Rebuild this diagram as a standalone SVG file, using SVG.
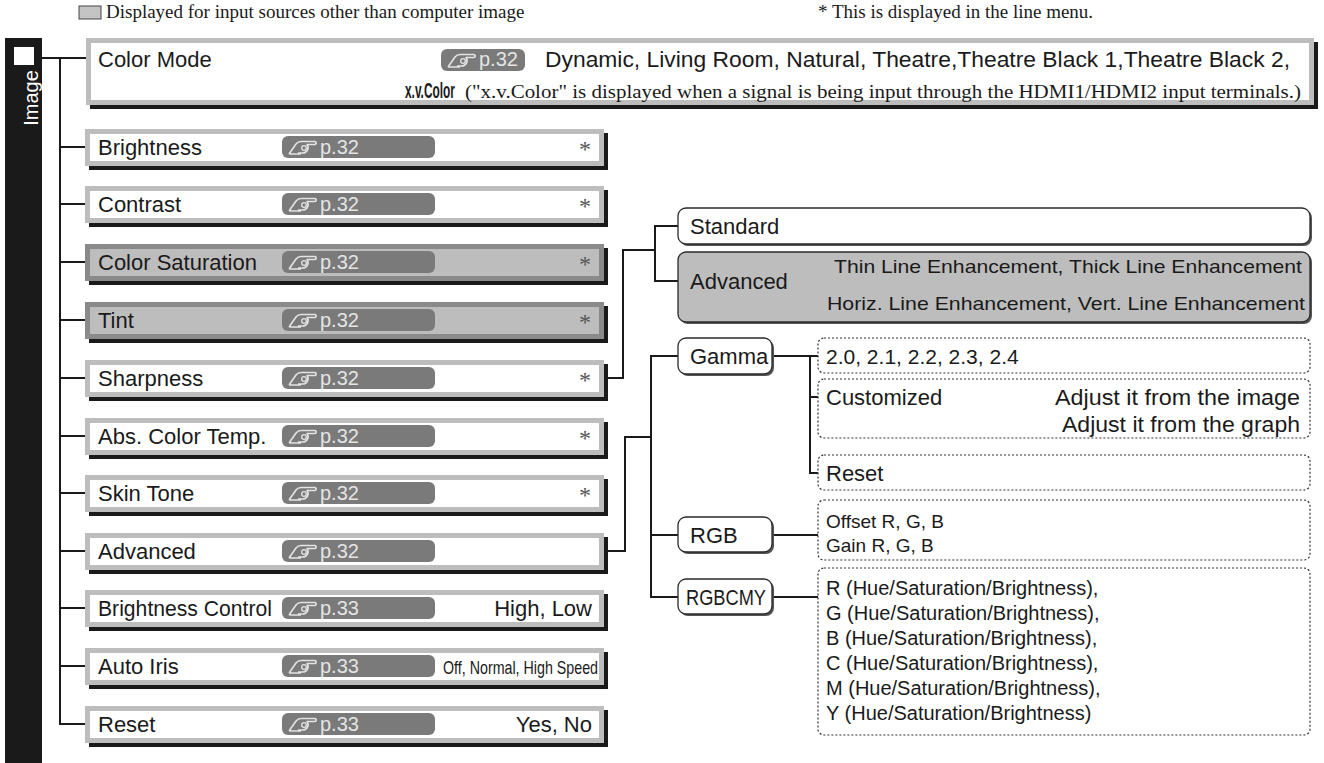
<svg xmlns="http://www.w3.org/2000/svg" width="1324" height="763" viewBox="0 0 1324 763">
<style>
.sans{font-family:"Liberation Sans",Arial,sans-serif;fill:#1a1a1a}
.serif{font-family:"Liberation Serif","Times New Roman",serif;fill:#1a1a1a}
.lbl{font-size:22px}
.sm{font-size:19px}
.sh{fill:#1a1a1a}
.ob{fill:#bdbdbd}
.ib{fill:#ffffff}
.og{fill:#8a8a8a}
.ig{fill:#bdbdbd}
.badge{fill:#7a7a7a}
.pg{font-family:"Liberation Sans",Arial,sans-serif;font-size:20px;fill:#e4e4e4}
.ast{font-family:"Liberation Serif",serif;font-size:24px;fill:#555}
.con{fill:none;stroke:#1a1a1a;stroke-width:2}
.rbox{fill:#fff;stroke:#2a2a2a;stroke-width:1.3}
.rboxg{fill:#bdbdbd;stroke:#2a2a2a;stroke-width:1.3}
.rsh{fill:#555}
.dot{fill:#fff;stroke:#333;stroke-width:1.2;stroke-dasharray:2 2}
</style>
<defs>
<symbol id="hand" viewBox="0 0 30 18" overflow="visible">
<path d="M1 16 L8 6 Q10 3.5 13 3.5 L27 3.5 Q29.5 4.8 27 6.5 L19 6.5 Q21 9 19.5 12 Q17.5 15.5 14 15 L10 15 M1 16 L13 16" fill="none" stroke="#e4e4e4" stroke-width="1.6" stroke-linejoin="round"/>
<circle cx="16" cy="10" r="2.3" fill="none" stroke="#e4e4e4" stroke-width="1.3"/>
</symbol>
</defs>
<rect width="1324" height="763" fill="#fff"/>

<g id="legend">
<rect x="79" y="6" width="22" height="13" fill="#c4c4c4" stroke="#444" stroke-width="1"/>
<text class="serif" x="106" y="18" font-size="19">Displayed for input sources other than computer image</text>
<text class="serif" x="818" y="18" font-size="19">* This is displayed in the line menu.</text>
</g>

<g id="sidebar">
<rect x="5" y="38" width="37" height="725" fill="#1a1a1a"/>
<rect x="14" y="47" width="20" height="18" fill="#fff"/>
<text class="sans" transform="translate(31,98) rotate(-90)" text-anchor="middle" dominant-baseline="central" font-size="20" style="fill:#fff">Image</text>
</g>

<g id="connectors">
<path class="con" d="M42 58 H86 M60 58 V724 H85 M60 147 H85 M60 204 H85 M60 262 H85 M60 320 H85 M60 378 H85 M60 436 H85 M60 493 H85 M60 551 H85 M60 608 H85 M60 666 H85"/>
<path class="con" d="M608 378 H623 V250 H655 M678 226 H655 V281 H678"/>
<path class="con" d="M608 551 H625 V437 H651 M678 356 H651 V597 H678 M651 535 H678"/>
<path class="con" d="M772 356 H818 M810 356 V473 H818 M810 397 H818 M772 535 H818 M772 597 H818"/>
</g>

<g id="n-colormode">
<rect class="sh" x="90" y="42" width="1228" height="67"/>
<rect class="ob" x="86" y="38" width="1228" height="67"/>
<rect class="ib" x="91" y="43" width="1218" height="57"/>
<text class="sans lbl" x="98" y="67">Color Mode</text>
<rect class="badge" x="441" y="49" width="84" height="22" rx="6"/>
<use href="#hand" x="447" y="51" width="30" height="18"/>
<text class="pg" x="479" y="66" font-size="19">p.32</text>
<text class="sans lbl" x="545" y="67" textLength="745" lengthAdjust="spacingAndGlyphs">Dynamic, Living Room, Natural, Theatre,Theatre Black 1,Theatre Black 2,</text>
<text class="sans" transform="translate(405 98) scale(0.54 1)" x="0" y="0" font-size="22" font-weight="bold">x.v.Color</text>
<text class="serif" x="465" y="98" font-size="19" textLength="836" lengthAdjust="spacingAndGlyphs">("x.v.Color" is displayed when a signal is being input through the HDMI1/HDMI2 input terminals.)</text>
</g>

<g id="n-brightness">
<rect class="sh" x="89" y="133" width="519" height="37"/>
<rect class="ob" x="85" y="129" width="519" height="37"/>
<rect class="ib" x="90" y="134" width="509" height="27"/>
<text class="sans lbl" x="98" y="155">Brightness</text>
<rect class="badge" x="282" y="136" width="153" height="22" rx="6"/>
<use href="#hand" x="288" y="138" width="30" height="18"/>
<text class="pg" x="320" y="154">p.32</text>
<text class="ast" x="579" y="157">*</text>
</g>

<g id="n-contrast">
<rect class="sh" x="89" y="190" width="519" height="37"/>
<rect class="ob" x="85" y="186" width="519" height="37"/>
<rect class="ib" x="90" y="191" width="509" height="27"/>
<text class="sans lbl" x="98" y="212">Contrast</text>
<rect class="badge" x="282" y="193" width="153" height="22" rx="6"/>
<use href="#hand" x="288" y="195" width="30" height="18"/>
<text class="pg" x="320" y="211">p.32</text>
<text class="ast" x="579" y="214">*</text>
</g>

<g id="n-colorsat">
<rect class="sh" x="89" y="248" width="519" height="37"/>
<rect class="og" x="85" y="244" width="519" height="37"/>
<rect class="ig" x="90" y="249" width="509" height="27"/>
<text class="sans lbl" x="98" y="270">Color Saturation</text>
<rect class="badge" x="282" y="251" width="153" height="22" rx="6"/>
<use href="#hand" x="288" y="253" width="30" height="18"/>
<text class="pg" x="320" y="269">p.32</text>
<text class="ast" x="579" y="272">*</text>
</g>

<g id="n-tint">
<rect class="sh" x="89" y="306" width="519" height="37"/>
<rect class="og" x="85" y="302" width="519" height="37"/>
<rect class="ig" x="90" y="307" width="509" height="27"/>
<text class="sans lbl" x="98" y="328">Tint</text>
<rect class="badge" x="282" y="309" width="153" height="22" rx="6"/>
<use href="#hand" x="288" y="311" width="30" height="18"/>
<text class="pg" x="320" y="327">p.32</text>
<text class="ast" x="579" y="330">*</text>
</g>

<g id="n-sharpness">
<rect class="sh" x="89" y="364" width="519" height="37"/>
<rect class="ob" x="85" y="360" width="519" height="37"/>
<rect class="ib" x="90" y="365" width="509" height="27"/>
<text class="sans lbl" x="98" y="386">Sharpness</text>
<rect class="badge" x="282" y="367" width="153" height="22" rx="6"/>
<use href="#hand" x="288" y="369" width="30" height="18"/>
<text class="pg" x="320" y="385">p.32</text>
<text class="ast" x="579" y="388">*</text>
</g>

<g id="n-abscolor">
<rect class="sh" x="89" y="422" width="519" height="37"/>
<rect class="ob" x="85" y="418" width="519" height="37"/>
<rect class="ib" x="90" y="423" width="509" height="27"/>
<text class="sans lbl" x="98" y="444">Abs. Color Temp.</text>
<rect class="badge" x="282" y="425" width="153" height="22" rx="6"/>
<use href="#hand" x="288" y="427" width="30" height="18"/>
<text class="pg" x="320" y="443">p.32</text>
<text class="ast" x="579" y="446">*</text>
</g>

<g id="n-skintone">
<rect class="sh" x="89" y="479" width="519" height="37"/>
<rect class="ob" x="85" y="475" width="519" height="37"/>
<rect class="ib" x="90" y="480" width="509" height="27"/>
<text class="sans lbl" x="98" y="501">Skin Tone</text>
<rect class="badge" x="282" y="482" width="153" height="22" rx="6"/>
<use href="#hand" x="288" y="484" width="30" height="18"/>
<text class="pg" x="320" y="500">p.32</text>
<text class="ast" x="579" y="503">*</text>
</g>

<g id="n-advanced">
<rect class="sh" x="89" y="537" width="519" height="37"/>
<rect class="ob" x="85" y="533" width="519" height="37"/>
<rect class="ib" x="90" y="538" width="509" height="27"/>
<text class="sans lbl" x="98" y="559">Advanced</text>
<rect class="badge" x="282" y="540" width="153" height="22" rx="6"/>
<use href="#hand" x="288" y="542" width="30" height="18"/>
<text class="pg" x="320" y="558">p.32</text>
</g>

<g id="n-brightctl">
<rect class="sh" x="89" y="594" width="519" height="37"/>
<rect class="ob" x="85" y="590" width="519" height="37"/>
<rect class="ib" x="90" y="595" width="509" height="27"/>
<text class="sans lbl" x="98" y="616" textLength="174" lengthAdjust="spacingAndGlyphs">Brightness Control</text>
<rect class="badge" x="282" y="597" width="153" height="22" rx="6"/>
<use href="#hand" x="288" y="599" width="30" height="18"/>
<text class="pg" x="320" y="615">p.33</text>
<text class="sans lbl" x="592" y="616" text-anchor="end">High, Low</text>
</g>

<g id="n-autoiris">
<rect class="sh" x="89" y="652" width="519" height="37"/>
<rect class="ob" x="85" y="648" width="519" height="37"/>
<rect class="ib" x="90" y="653" width="509" height="27"/>
<text class="sans lbl" x="98" y="674">Auto Iris</text>
<rect class="badge" x="282" y="655" width="153" height="22" rx="6"/>
<use href="#hand" x="288" y="657" width="30" height="18"/>
<text class="pg" x="320" y="673">p.33</text>
<text class="sans" x="443" y="674" font-size="19" textLength="155" lengthAdjust="spacingAndGlyphs">Off, Normal, High Speed</text>
</g>

<g id="n-reset">
<rect class="sh" x="89" y="710" width="519" height="37"/>
<rect class="ob" x="85" y="706" width="519" height="37"/>
<rect class="ib" x="90" y="711" width="509" height="27"/>
<text class="sans lbl" x="98" y="732">Reset</text>
<rect class="badge" x="282" y="713" width="153" height="22" rx="6"/>
<use href="#hand" x="288" y="715" width="30" height="18"/>
<text class="pg" x="320" y="731">p.33</text>
<text class="sans lbl" x="592" y="732" text-anchor="end">Yes, No</text>
</g>

<g id="n-standard">
<rect class="rsh" x="680" y="210" width="632" height="36" rx="8"/>
<rect class="rbox" x="678" y="208" width="632" height="36" rx="8"/>
<text class="sans lbl" x="690" y="234">Standard</text>
</g>

<g id="n-advanced2">
<rect class="rsh" x="680" y="254" width="632" height="70" rx="8"/>
<rect class="rboxg" x="678" y="252" width="632" height="70" rx="8"/>
<text class="sans lbl" x="690" y="289">Advanced</text>
<text class="sans" x="834" y="273" font-size="19" textLength="468" lengthAdjust="spacingAndGlyphs">Thin Line Enhancement, Thick Line Enhancement</text>
<text class="sans" x="827" y="310" font-size="19" textLength="478" lengthAdjust="spacingAndGlyphs">Horiz. Line Enhancement, Vert. Line Enhancement</text>
</g>

<g id="n-gamma">
<rect class="rsh" x="680" y="340" width="94" height="36" rx="8"/>
<rect class="rbox" x="678" y="338" width="94" height="36" rx="8"/>
<text class="sans lbl" x="690" y="364">Gamma</text>
</g>

<g id="n-rgb">
<rect class="rsh" x="680" y="519" width="94" height="35" rx="8"/>
<rect class="rbox" x="678" y="517" width="94" height="35" rx="8"/>
<text class="sans lbl" x="690" y="543">RGB</text>
</g>

<g id="n-rgbcmy">
<rect class="rsh" x="680" y="581" width="94" height="35" rx="8"/>
<rect class="rbox" x="678" y="579" width="94" height="35" rx="8"/>
<text class="sans lbl" x="686" y="605" textLength="80" lengthAdjust="spacingAndGlyphs">RGBCMY</text>
</g>

<g id="n-gammavals">
<rect class="dot" x="818" y="338" width="492" height="35" rx="6"/>
<text class="sans" x="826" y="364" font-size="21">2.0, 2.1, 2.2, 2.3, 2.4</text>
</g>

<g id="n-customized">
<rect class="dot" x="818" y="379" width="492" height="59" rx="6"/>
<text class="sans lbl" x="826" y="405">Customized</text>
<text class="sans" x="1300" y="405" font-size="22" text-anchor="end" textLength="245" lengthAdjust="spacingAndGlyphs">Adjust it from the image</text>
<text class="sans" x="1300" y="432" font-size="22" text-anchor="end" textLength="238" lengthAdjust="spacingAndGlyphs">Adjust it from the graph</text>
</g>

<g id="n-gammareset">
<rect class="dot" x="818" y="455" width="492" height="35" rx="6"/>
<text class="sans lbl" x="826" y="481">Reset</text>
</g>

<g id="n-rgbvals">
<rect class="dot" x="818" y="500" width="492" height="60" rx="6"/>
<text class="sans sm" x="826" y="528">Offset R, G, B</text>
<text class="sans sm" x="826" y="552">Gain R, G, B</text>
</g>

<g id="n-rgbcmyvals">
<rect class="dot" x="818" y="568" width="492" height="167" rx="6"/>
<text class="sans" font-size="20" x="826" y="595">R (Hue/Saturation/Brightness),</text>
<text class="sans" font-size="20" x="826" y="620">G (Hue/Saturation/Brightness),</text>
<text class="sans" font-size="20" x="826" y="645">B (Hue/Saturation/Brightness),</text>
<text class="sans" font-size="20" x="826" y="670">C (Hue/Saturation/Brightness),</text>
<text class="sans" font-size="20" x="826" y="695">M (Hue/Saturation/Brightness),</text>
<text class="sans" font-size="20" x="826" y="720">Y (Hue/Saturation/Brightness)</text>
</g>
</svg>
